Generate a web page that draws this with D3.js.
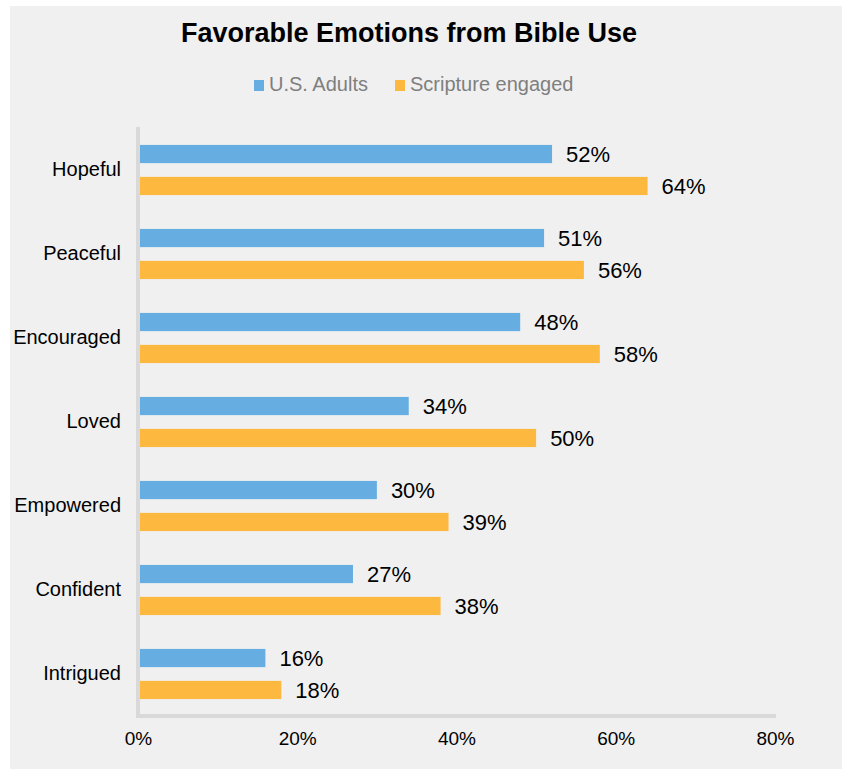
<!DOCTYPE html>
<html>
<head>
<meta charset="utf-8">
<script src="https://cdn.jsdelivr.net/npm/d3@7"></script>
<style>
  html, body { margin: 0; padding: 0; background: #ffffff; }
  svg { display: block; }
  text { font-family: Arial, "Liberation Sans", Helvetica, sans-serif; }
</style>
</head>
<body>
<svg id="chart" width="842" height="769"></svg>
<script>
// Chart data
const categories = ["Hopeful", "Peaceful", "Encouraged", "Loved", "Empowered", "Confident", "Intrigued"];
const seriesNames = ["U.S. Adults", "Scripture engaged"];
const usAdults = [52, 51, 48, 34, 30, 27, 16];
const scriptureEngaged = [64, 56, 58, 50, 39, 38, 18];
const xTicks = [0, 20, 40, 60, 80];
const colors = ["#66aee1", "#fdb93f"];

const svg = d3.select("#chart");
const W = 842, H = 769;

// Panel background
svg.append("rect")
  .attr("x", 10).attr("y", 6)
  .attr("width", W - 10).attr("height", H - 6)
  .attr("fill", "#f0f0f0");

const centerX = 409;

// Title
svg.append("text")
  .attr("x", centerX).attr("y", 42)
  .attr("text-anchor", "middle")
  .attr("font-size", 27).attr("font-weight", "bold")
  .attr("fill", "#000")
  .text("Favorable Emotions from Bible Use");

// Legend
const legendItems = [
  { name: seriesNames[0], color: colors[0], x: 254 },
  { name: seriesNames[1], color: colors[1], x: 395 }
];
const lg = svg.append("g");
legendItems.forEach(d => {
  lg.append("rect").attr("x", d.x).attr("y", 80).attr("width", 10).attr("height", 11).attr("fill", d.color);
  lg.append("text").attr("x", d.x + 15).attr("y", 91)
    .attr("font-size", 20).attr("fill", "#7f7f7f").text(d.name);
});

// Scales
const x = d3.scaleLinear().domain([0, 80]).range([138, 775]);
const y = d3.scaleBand().domain(categories).range([128, 716]).paddingInner(0).paddingOuter(0);
const inner = d3.scaleBand().domain(seriesNames).range([0, y.bandwidth()])
  .paddingInner(0.43).paddingOuter(0.53);

const rows = categories.map((c, i) => ({
  category: c,
  values: [
    { series: seriesNames[0], value: usAdults[i], color: colors[0] },
    { series: seriesNames[1], value: scriptureEngaged[i], color: colors[1] }
  ]
}));

// Bars
const groups = svg.append("g").selectAll("g").data(rows).join("g")
  .attr("transform", d => `translate(0,${y(d.category)})`);

groups.selectAll("rect").data(d => d.values).join("rect")
  .attr("x", x(0))
  .attr("y", d => inner(d.series))
  .attr("width", d => x(d.value) - x(0))
  .attr("height", inner.bandwidth())
  .attr("fill", d => d.color);

// Value labels
groups.selectAll("text.val").data(d => d.values).join("text")
  .attr("class", "val")
  .attr("x", d => x(d.value) + 14)
  .attr("y", d => inner(d.series) + inner.bandwidth() / 2)
  .attr("dy", "0.36em")
  .attr("font-size", 22)
  .attr("fill", "#000")
  .text(d => d.value + "%");

// Y axis
const yAxis = svg.append("g")
  .attr("transform", `translate(${x(0)},0)`)
  .call(d3.axisLeft(y).tickSize(0).tickPadding(17));
yAxis.select(".domain").attr("stroke", "#d9d9d9").attr("stroke-width", 4)
  .attr("d", "M0,127V716");
yAxis.selectAll("text").attr("font-size", 20).attr("fill", "#000")
  .attr("font-family", "Arial, 'Liberation Sans', sans-serif");

// X axis
const xAxis = svg.append("g")
  .attr("transform", "translate(0,716)")
  .call(d3.axisBottom(x).tickValues(xTicks).tickFormat(d => d + "%").tickSize(0).tickPadding(16));
xAxis.select(".domain").attr("stroke", "#d9d9d9").attr("stroke-width", 4)
  .attr("d", `M${x(0) - 2},0H${x(80) + 1}`);
xAxis.selectAll("text").attr("font-size", 19).attr("fill", "#000")
  .attr("font-family", "Arial, 'Liberation Sans', sans-serif");
</script>
</body>
</html>
